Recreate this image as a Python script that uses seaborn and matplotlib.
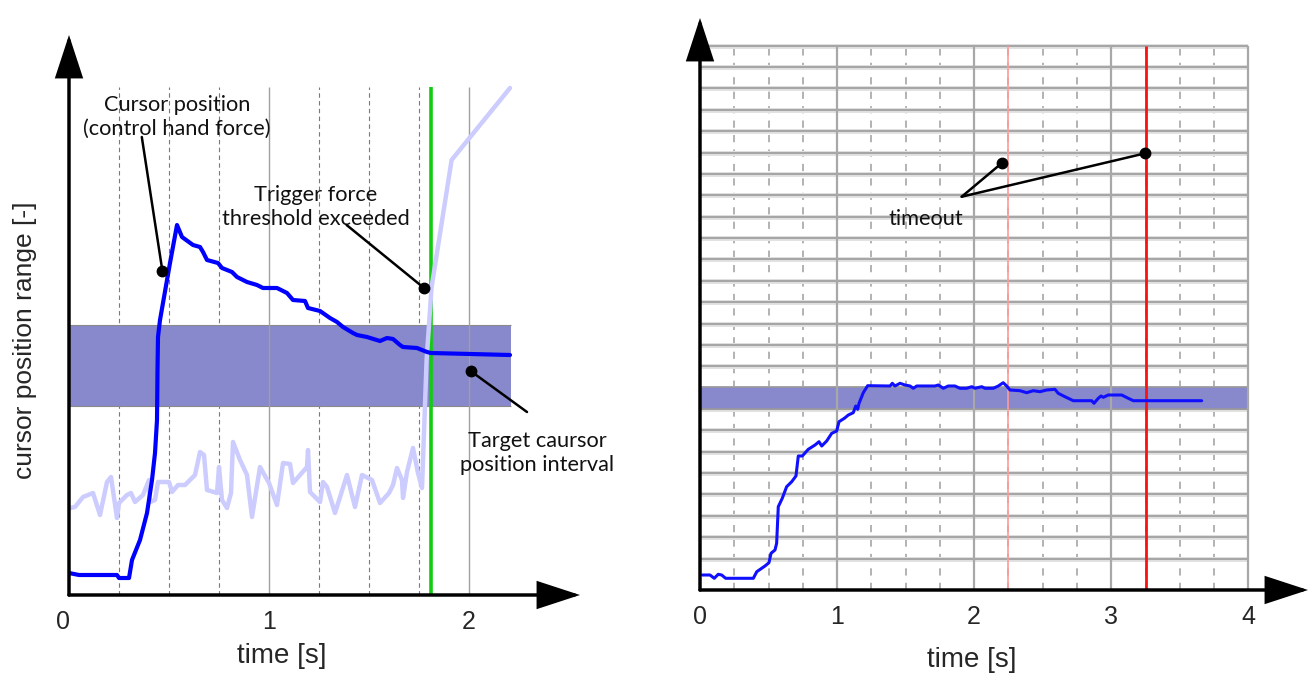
import matplotlib
matplotlib.use("Agg")
import matplotlib.pyplot as plt
from matplotlib.patches import FancyArrowPatch
from matplotlib.transforms import ScaledTranslation
import numpy as np
import seaborn as sns

# ---- left panel: trial ended by the trigger force ----
left_cursor_t = [0.0, 0.05, 0.24, 0.25, 0.30, 0.315, 0.355, 0.39, 0.415, 0.43, 0.44,
                 0.4425, 0.445, 0.455, 0.505, 0.54, 0.565, 0.62, 0.655, 0.67, 0.69,
                 0.745, 0.765, 0.815, 0.84, 0.89, 0.94, 0.97, 1.04, 1.09, 1.12, 1.18,
                 1.195, 1.255, 1.305, 1.34, 1.37, 1.42, 1.44, 1.49, 1.555, 1.59, 1.62,
                 1.655, 1.67, 1.74, 1.79, 1.81, 2.205]
left_cursor_y = [22, 20, 20, 17, 17, 35, 55, 82, 115, 142, 175,
                 225, 258, 275, 332, 370, 358, 350, 348, 343, 335,
                 332, 327, 323, 318, 313, 310, 307, 307, 302, 295, 294,
                 287, 284, 277, 273, 268, 262, 260, 258, 254, 257, 256,
                 250, 248, 247, 243, 242, 240]

trigger_force_t = [0.005, 0.03, 0.07, 0.12, 0.155, 0.19, 0.21, 0.24, 0.25, 0.29, 0.31,
                   0.33, 0.37, 0.40, 0.405, 0.43, 0.445, 0.50, 0.515, 0.545, 0.58,
                   0.63, 0.655, 0.675, 0.69, 0.74, 0.75, 0.765, 0.79, 0.81, 0.82,
                   0.855, 0.89, 0.915, 0.955, 1.0, 1.04, 1.07, 1.105, 1.12, 1.19,
                   1.195, 1.205, 1.255, 1.27, 1.29, 1.33, 1.39, 1.43, 1.465, 1.515,
                   1.555, 1.60, 1.62, 1.64, 1.665, 1.67, 1.69, 1.72, 1.745, 1.765,
                   1.788, 1.813, 1.913, 2.205]
trigger_force_y = [87, 88, 98, 102, 80, 113, 118, 77, 92, 100, 102,
                   93, 100, 115, 93, 95, 113, 113, 103, 110, 110,
                   120, 143, 140, 105, 102, 128, 95, 87, 102, 153,
                   135, 120, 78, 128, 112, 90, 132, 131, 112, 128,
                   145, 103, 93, 113, 108, 82, 120, 88, 120, 115,
                   92, 102, 110, 127, 115, 97, 123, 147, 122, 107,
                   235, 308, 435, 507]

left_target_low, left_target_high = 189, 270
left_target_end = 2.21
trigger_time = 1.81
left_ticks = [0, 1, 2]

# ---- right panel: trial ended by timeout ----
right_cursor_t = [0.017, 0.073, 0.104, 0.133, 0.158, 0.187, 0.389, 0.414, 0.474, 0.503,
                  0.518, 0.547, 0.559, 0.571, 0.600, 0.632, 0.669, 0.700, 0.717, 0.746,
                  0.790, 0.839, 0.868, 0.888, 0.924, 0.961, 0.997, 1.014, 1.053, 1.082,
                  1.118, 1.136, 1.150, 1.160, 1.191, 1.223, 1.386, 1.403, 1.422, 1.459,
                  1.495, 1.532, 1.556, 1.581, 1.714, 1.738, 1.775, 1.811, 1.860, 1.896,
                  1.945, 1.982, 2.006, 2.055, 2.079, 2.139, 2.176, 2.212, 2.237, 2.261,
                  2.334, 2.383, 2.431, 2.480, 2.529, 2.589, 2.613, 2.662, 2.723, 2.857,
                  2.874, 2.905, 2.925, 2.942, 2.978, 3.076, 3.124, 3.161, 3.659]
right_cursor_y = [15, 15, 11.7, 15.7, 15, 11.7, 11.7, 18.3, 24, 27.3,
                  36.7, 40, 46.7, 83.3, 91.7, 103.3, 108.3, 114, 134, 134,
                  140.7, 145, 148.3, 144, 149, 156.7, 159, 168.3, 171.7, 175,
                  177.3, 184, 180.7, 186.7, 197.3, 204.3, 204, 206.7, 204, 206.7,
                  205, 204, 201.7, 204, 204, 205, 201.7, 204, 204, 201.7,
                  201.7, 203.3, 201.7, 203.3, 201.7, 201.7, 204, 207.3, 204, 200,
                  199.3, 197.3, 199.3, 198.3, 200, 200.7, 196.7, 193.3, 189.3, 189.3,
                  186.7, 191.7, 194, 192.7, 195, 195, 191.7, 189.3, 189.3]

right_target_low, right_target_high = 180.7, 202.7
timeout_first, timeout_final = 2.25, 3.25
right_ticks = [0, 1, 2, 3, 4]

sns.set_style("white")
plt.rcParams["font.family"] = ["Liberation Sans", "DejaVu Sans"]

W, H, DPI = 1315, 675, 100
fig = plt.figure(figsize=(W / DPI, H / DPI), dpi=DPI)
ax1 = fig.add_axes([69 / W, 80 / H, 511 / W, 560 / H])
ax2 = fig.add_axes([700 / W, 85 / H, 608 / W, 572 / H])
ax1.set_xlim(0, 2.555)
ax1.set_ylim(0, 560)
ax2.set_xlim(0, 4.435)
ax2.set_ylim(0, 572)

band_color = "#8888cc"
note_font = dict(family=["Lato", "DejaVu Sans"], fontsize=15.7, color="#111111")


def arrow_axes(ax):
    for spine in ax.spines.values():
        spine.set_visible(False)
    for end in [(1, 0), (0, 1)]:
        ax.add_patch(FancyArrowPatch((0, 0), end, transform=ax.transAxes,
                                     arrowstyle="-|>,head_length=26,head_width=8.5",
                                     mutation_scale=1, lw=2.5, color="black",
                                     shrinkA=0, shrinkB=0, clip_on=False, zorder=8,
                                     joinstyle="miter"))
    ax.set_yticks([])
    ax.tick_params(axis="x", length=0, pad=11, labelsize=18)


def leader(ax, start, dot):
    ax.plot([start[0], dot[0]], [start[1], dot[1]], color="black", lw=1.8, zorder=9,
            solid_capstyle="round")
    ax.plot([dot[0]], [dot[1]], "o", ms=7.5, color="black", zorder=9)


# ---------- left panel ----------
grid_top_l = 508
quarters_l = np.arange(0.25, 2.0, 0.25)
dashed_l = [q for q in quarters_l if q % 1]
ax1.vlines(dashed_l, 0, grid_top_l, colors="#7a7a7a", lw=0.8, linestyles=(0, (4, 3)), zorder=1)
ax1.fill_between([0, left_target_end], left_target_low, left_target_high,
                 color=band_color, lw=0, zorder=2)
ax1.hlines([left_target_low, left_target_high], 0, left_target_end,
           colors="#8a8a8a", lw=0.8, zorder=2)
ax1.vlines([1, 2], 0, grid_top_l, colors="#a0a0a0", lw=1.0, zorder=3)
ax1.vlines(trigger_time, 0, grid_top_l, colors="#11cc11", lw=2.6, zorder=4)

sns.lineplot(x=trigger_force_t, y=trigger_force_y, ax=ax1, color="#ccccff", lw=3.2,
             estimator=None, sort=False, legend=False, zorder=5)
sns.lineplot(x=left_cursor_t, y=left_cursor_y, ax=ax1, color="#0000ff", lw=3.0,
             estimator=None, sort=False, legend=False, zorder=6)

arrow_axes(ax1)
ax1.set_xticks(left_ticks)
ax1.set_xticklabels([str(v) for v in left_ticks])
# the origin label sits a little left of the axis line
zero_label = ax1.get_xticklabels()[0]
zero_label.set_transform(zero_label.get_transform()
                         + ScaledTranslation(-0.06, 0, fig.dpi_scale_trans))
ax1.set_xlabel("time [s]", fontsize=20)
ax1.xaxis.set_label_coords(0.417, -0.085)
ax1.set_ylabel("cursor position range [-]", fontsize=19)
ax1.yaxis.set_label_coords(-0.063, 0.455)

ax1.text(0.54, 478, "Cursor position\n(control hand force)", ha="center", va="center",
         linespacing=1.25, **note_font)
leader(ax1, (0.364, 458), (0.467, 324))
ax1.text(1.235, 388, "Trigger force\nthreshold exceeded", ha="center", va="center",
         linespacing=1.25, **note_font)
leader(ax1, (1.388, 370), (1.775, 307))
ax1.text(2.34, 142, "Target caursor\nposition interval", ha="center", va="center",
         linespacing=1.25, **note_font)
leader(ax1, (2.29, 183), (2.008, 224))

# ---------- right panel ----------
grid_top_r = 544.3
row_step = 21.37
rows = grid_top_r - row_step * np.arange(25)
quarters_r = np.arange(0.25, 4.0, 0.25)
dashed_r = [q for q in quarters_r if q % 1]
ax2.vlines(dashed_r, 0, grid_top_r, colors="#acacac", lw=1.3, linestyles=(0, (4, 4)), zorder=1)
ax2.hlines(rows, 0, 4, colors="#e2e2e2", lw=3.6, zorder=1)
ax2.hlines(rows, 0, 4, colors="#a6a6a6", lw=1.5, zorder=1.5)
ax2.fill_between([0, 4], right_target_low, right_target_high, color=band_color, lw=0, zorder=2)
ax2.hlines([right_target_low, right_target_high], 0, 4, colors="#9a9a9a", lw=1.2, zorder=2.5)
ax2.vlines([1, 2, 3, 4], 0, grid_top_r, colors="#a8a8a8", lw=1.6, zorder=3)
ax2.vlines(timeout_first, 0, grid_top_r, colors="#ff9a9a", lw=1.2, zorder=4)
ax2.vlines(timeout_final, 0, grid_top_r, colors="#ff1010", lw=2.0, zorder=4)

sns.lineplot(x=right_cursor_t, y=right_cursor_y, ax=ax2, color="#1010ff", lw=2.2,
             estimator=None, sort=False, legend=False, zorder=6)

arrow_axes(ax2)
ax2.set_xticks(right_ticks)
ax2.set_xticklabels([str(v) for v in right_ticks])
ax2.set_xlabel("time [s]", fontsize=20)
ax2.xaxis.set_label_coords(0.447, -0.1)
ax2.set_ylabel("")

ax2.text(1.648, 371, "timeout", ha="center", va="center", **note_font)
leader(ax2, (1.909, 393.3), (2.205, 427.3))
leader(ax2, (1.909, 393.3), (3.248, 436.7))

fig.savefig("out.png", dpi=DPI)
